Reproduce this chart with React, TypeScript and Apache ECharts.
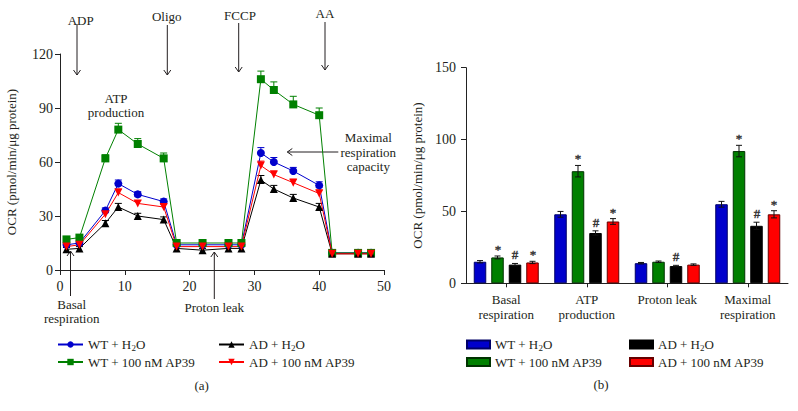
import React, { useEffect, useRef } from "react";
import * as echarts from "echarts";

// ---------- Data (a): OCR time course ----------
const times = [1, 3, 7, 9, 12, 16, 18, 22, 26, 28, 31, 33, 36, 40, 42, 46, 48];
const wtH2O = [14, 15, 33, 48, 42, 38, 14, 14, 14, 14, 65, 60, 55, 47, 9.5, 9.5, 9.5];
const wtAP39 = [17, 18, 62, 78, 70, 62, 15, 15, 15, 15, 106, 100, 92, 86, 9.5, 9.5, 9.5];
const adH2O = [11.5, 12, 26, 35, 30, 28, 12, 11, 12, 12, 50, 45, 40, 35, 9, 9, 9];
const adAP39 = [13, 14, 31, 43, 37, 35, 13, 13, 13, 13, 58, 53, 48.5, 42.5, 9, 9, 9];
const wtH2OErr = [1, 1, 1.5, 2, 1.5, 1.5, 1, 1, 1, 1, 3, 2.5, 2, 2, 0.5, 0.5, 0.5];
const wtAP39Err = [1.5, 1.5, 2, 3.5, 3, 3, 1, 1, 1, 1, 4.5, 4.5, 4.5, 4, 0.5, 0.5, 0.5];
const adH2OErr = [1, 1, 1.5, 2, 1.5, 1.5, 1, 1, 1, 1, 2.5, 2, 2, 2, 0.5, 0.5, 0.5];
const adAP39Err = [1, 1, 1.5, 2, 1.5, 1.5, 1, 1, 1, 1, 2.5, 2, 2, 2, 0.5, 0.5, 0.5];

// ---------- Data (b): summary bars ----------
const categories = ["Basal\nrespiration", "ATP\nproduction", "Proton leak", "Maximal\nrespiration"];
const barWtH2O = [15, 48, 14, 55];
const barWtAP39 = [18, 78, 15, 92];
const barAdH2O = [13, 35, 12, 40];
const barAdAP39 = [14.5, 43, 13, 48];
const barWtH2OErr = [0.8, 2, 0.5, 2];
const barWtAP39Err = [1, 4, 0.5, 4];
const barAdH2OErr = [0.8, 1.5, 0.5, 2.5];
const barAdAP39Err = [0.8, 2, 0.5, 2.5];
const barWtH2OMark = ["", "", "", ""];
const barWtAP39Mark = ["*", "*", "", "*"];
const barAdH2OMark = ["#", "#", "#", "#"];
const barAdAP39Mark = ["*", "*", "", "*"];

const seriesNames = ["WT + H2O", "WT + 100 nM AP39", "AD + H2O", "AD + 100 nM AP39"];

const FONT = "'Liberation Serif', 'DejaVu Serif', serif";
const TXT = "#231F20";
const BLUE = "#0000CC";
const GREEN = "#008000";
const BLACK = "#000000";
const RED = "#FF0000";

const BAR_W = 12.5;
const BAR_STEP = 17.5;

function legendFormatter(name: string) {
  const n = name.replace(/^b:/, "");
  if (n.indexOf("H2O") >= 0) {
    const pre = n.replace("H2O", "H");
    return "{t|" + pre + "}{s|2}{t|O}";
  }
  return "{t|" + n + "}";
}

const legendRich = {
  t: { fontSize: 13, fontFamily: FONT, color: TXT },
  s: { fontSize: 9, fontFamily: FONT, color: TXT, padding: [7, 0, 0, 0] },
};

function lineErr(vals: number[], errs: number[], color: string) {
  return {
    type: "custom",
    xAxisIndex: 0,
    yAxisIndex: 0,
    silent: true,
    z: 1,
    itemStyle: { color },
    data: times.map((t, i) => [t, vals[i], vals[i] + errs[i]]),
    renderItem: (params: any, api: any) => {
      const p0 = api.coord([api.value(0), api.value(1)]);
      const p1 = api.coord([api.value(0), api.value(2)]);
      return {
        type: "group",
        children: [
          { type: "line", shape: { x1: p0[0], y1: p0[1], x2: p1[0], y2: p1[1] }, style: { stroke: color, lineWidth: 1 } },
          { type: "line", shape: { x1: p1[0] - 3.5, y1: p1[1], x2: p1[0] + 3.5, y2: p1[1] }, style: { stroke: color, lineWidth: 1 } },
        ],
      };
    },
  };
}

function barErr(k: number, vals: number[], errs: number[], marks: string[]) {
  return {
    type: "custom",
    xAxisIndex: 1,
    yAxisIndex: 1,
    silent: true,
    z: 5,
    itemStyle: { color: TXT },
    data: vals.map((v, i) => [i, v, v - errs[i], v + errs[i]]),
    renderItem: (params: any, api: any) => {
      const idx = api.value(0);
      const c = api.coord([idx, api.value(1)]);
      const lo = api.coord([idx, api.value(2)]);
      const hi = api.coord([idx, api.value(3)]);
      const x = c[0] + (k - 1.5) * BAR_STEP;
      const mark = marks[params.dataIndex];
      const children: any[] = [
        { type: "line", shape: { x1: x, y1: lo[1], x2: x, y2: hi[1] }, style: { stroke: "#111", lineWidth: 1 } },
        { type: "line", shape: { x1: x - 3, y1: hi[1], x2: x + 3, y2: hi[1] }, style: { stroke: "#111", lineWidth: 1 } },
        { type: "line", shape: { x1: x - 3, y1: lo[1], x2: x + 3, y2: lo[1] }, style: { stroke: "#111", lineWidth: 1 } },
      ];
      if (mark) {
        children.push({
          type: "text",
          x: Math.round(x),
          y: Math.round(hi[1] - (mark === "*" ? 0 : 2)),
          style: {
            text: mark,
            align: "center",
            verticalAlign: "bottom",
            fontSize: 13,
            fontFamily: FONT,
            fill: "#333333",
            stroke: "#333333",
            lineWidth: 0.4,
          },
        });
      }
      return { type: "group", children };
    },
  };
}

function arrowDown(x: number, y1: number, y2: number) {
  return [
    { type: "line", shape: { x1: x, y1, x2: x, y2 }, style: { stroke: TXT, lineWidth: 1 } },
    { type: "polyline", shape: { points: [[x - 3.5, y2 - 5], [x, y2], [x + 3.5, y2 - 5]] }, style: { stroke: TXT, fill: "none", lineWidth: 1 } },
  ];
}
function arrowUp(x: number, y1: number, y2: number) {
  return [
    { type: "line", shape: { x1: x, y1, x2: x, y2 }, style: { stroke: TXT, lineWidth: 1 } },
    { type: "polyline", shape: { points: [[x - 3.5, y1 + 5], [x, y1], [x + 3.5, y1 + 5]] }, style: { stroke: TXT, fill: "none", lineWidth: 1 } },
  ];
}
function arrowLeft(x1: number, x2: number, y: number) {
  return [
    { type: "line", shape: { x1, y1: y, x2, y2: y }, style: { stroke: TXT, lineWidth: 1 } },
    { type: "polyline", shape: { points: [[x1 + 5, y - 3.5], [x1, y], [x1 + 5, y + 3.5]] }, style: { stroke: TXT, fill: "none", lineWidth: 1 } },
  ];
}
function label(text: string, x: number, y: number) {
  return {
    type: "text",
    style: { text, x, y, align: "center", verticalAlign: "middle", fontSize: 13, fontFamily: FONT, fill: TXT },
  };
}

export default function App() {
  const ref = useRef<HTMLDivElement>(null);
  useEffect(() => {
    if (!ref.current) return;
    const chart = echarts.init(ref.current, undefined, { renderer: "svg" });
    const axisLine = { show: true, lineStyle: { color: "#222", width: 1 } };
    const axisTick = { show: true, length: 5, lineStyle: { color: "#222", width: 1 } };
    const axisLabel = { color: TXT, fontSize: 14, fontFamily: FONT };
    const yName = "OCR (pmol/min/\u03bcg protein)";

    const lineSeries = [
      { name: seriesNames[0], vals: wtH2O, color: BLUE, symbol: "circle", size: 8, rot: 0 },
      { name: seriesNames[1], vals: wtAP39, color: GREEN, symbol: "rect", size: 8, rot: 0 },
      { name: seriesNames[2], vals: adH2O, color: BLACK, symbol: "triangle", size: 8, rot: 0 },
      { name: seriesNames[3], vals: adAP39, color: RED, symbol: "triangle", size: 8, rot: 180 },
    ].map((s) => ({
      type: "line",
      name: s.name,
      xAxisIndex: 0,
      yAxisIndex: 0,
      data: times.map((t, i) => [t, s.vals[i]]),
      symbol: s.symbol,
      symbolSize: s.size,
      symbolRotate: s.rot,
      showAllSymbol: true,
      lineStyle: { color: s.color, width: 1 },
      itemStyle: { color: s.color },
      z: 3,
    }));

    const barDefs = [
      { name: "b:" + seriesNames[0], vals: barWtH2O, color: BLUE, border: "#000066" },
      { name: "b:" + seriesNames[1], vals: barWtAP39, color: GREEN, border: "#003300" },
      { name: "b:" + seriesNames[2], vals: barAdH2O, color: BLACK, border: "#000000" },
      { name: "b:" + seriesNames[3], vals: barAdAP39, color: RED, border: "#660000" },
    ];
    const barSeries = barDefs.map((b) => ({
      type: "bar",
      name: b.name,
      xAxisIndex: 1,
      yAxisIndex: 1,
      data: b.vals,
      barWidth: BAR_W,
      barGap: "40%",
      itemStyle: { color: b.color, borderColor: b.border, borderWidth: 1 },
      z: 2,
    }));

    const legendBase = {
      orient: "vertical",
      selectedMode: false,
      padding: 0,
      itemGap: 3,
      formatter: legendFormatter,
      textStyle: { rich: legendRich, fontSize: 13, fontFamily: FONT, color: TXT },
    };

    chart.setOption({
      animation: false,
      backgroundColor: "#ffffff",
      textStyle: { fontFamily: FONT },
      grid: [
        { left: 60, top: 54, width: 324, height: 216 },
        { left: 466, top: 67.7, width: 322, height: 215.6 },
      ],
      xAxis: [
        {
          type: "value",
          gridIndex: 0,
          min: 0,
          max: 50,
          interval: 10,
          axisLine,
          axisTick,
          splitLine: { show: false },
          axisLabel: { ...axisLabel, margin: 9 },
        },
        {
          type: "category",
          gridIndex: 1,
          data: categories,
          axisLine,
          axisTick: { ...axisTick, alignWithLabel: true, length: 4 },
          axisLabel: { ...axisLabel, fontSize: 13, margin: 9, lineHeight: 14.7, interval: 0 },
        },
      ],
      yAxis: [
        {
          type: "value",
          gridIndex: 0,
          min: 0,
          max: 120,
          interval: 30,
          axisLine,
          axisTick,
          splitLine: { show: false },
          axisLabel: { ...axisLabel, margin: 7 },
          name: yName,
          nameLocation: "middle",
          nameGap: 42,
          nameTextStyle: { color: TXT, fontSize: 13, fontFamily: FONT },
        },
        {
          type: "value",
          gridIndex: 1,
          min: 0,
          max: 150,
          interval: 50,
          axisLine,
          axisTick,
          splitLine: { show: false },
          axisLabel: { ...axisLabel, margin: 10 },
          name: yName,
          nameLocation: "middle",
          nameGap: 42,
          nameTextStyle: { color: TXT, fontSize: 13, fontFamily: FONT },
        },
      ],
      legend: [
        { ...legendBase, left: 57, top: 338, itemWidth: 25, itemHeight: 8, data: [seriesNames[0], seriesNames[1]] },
        { ...legendBase, left: 218, top: 338, itemWidth: 25, itemHeight: 8, data: [seriesNames[2], seriesNames[3]] },
        { ...legendBase, left: 466, top: 338, icon: "rect", itemWidth: 23, itemHeight: 8, data: ["b:" + seriesNames[0], "b:" + seriesNames[1]] },
        { ...legendBase, left: 629, top: 338, icon: "rect", itemWidth: 23, itemHeight: 8, data: ["b:" + seriesNames[2], "b:" + seriesNames[3]] },
      ],
      graphic: [
        label("ADP", 80.7, 20),
        ...arrowDown(77, 24, 75),
        label("Oligo", 166.7, 16.5),
        ...arrowDown(167.3, 25, 75),
        label("FCCP", 240, 15),
        ...arrowDown(238.7, 23, 72),
        label("AA", 325, 13),
        ...arrowDown(325, 22, 70),
        label("ATP", 116, 98),
        label("production", 116, 112.7),
        label("Maximal", 368.3, 137.7),
        label("respiration", 368.3, 152.7),
        label("capacity", 368.3, 166.7),
        ...arrowLeft(287.3, 338.3, 152),
        ...arrowUp(70.5, 251, 296),
        label("Basal", 71.7, 304),
        label("respiration", 71.7, 318.5),
        ...arrowUp(214.3, 252, 299),
        label("Proton leak", 214.3, 307),
        label("(a)", 201.7, 385),
        label("(b)", 601, 384),
      ],
      series: [
        lineErr(wtH2O, wtH2OErr, BLUE),
        lineErr(wtAP39, wtAP39Err, GREEN),
        lineErr(adH2O, adH2OErr, BLACK),
        lineErr(adAP39, adAP39Err, RED),
        ...lineSeries,
        ...barSeries,
        barErr(0, barWtH2O, barWtH2OErr, barWtH2OMark),
        barErr(1, barWtAP39, barWtAP39Err, barWtAP39Mark),
        barErr(2, barAdH2O, barAdH2OErr, barAdH2OMark),
        barErr(3, barAdAP39, barAdAP39Err, barAdAP39Mark),
      ],
    });
    return () => chart.dispose();
  }, []);
  return <div ref={ref} style={{ position: "fixed", left: 0, top: 0, width: 798, height: 411, background: "#fff" }} />;
}
